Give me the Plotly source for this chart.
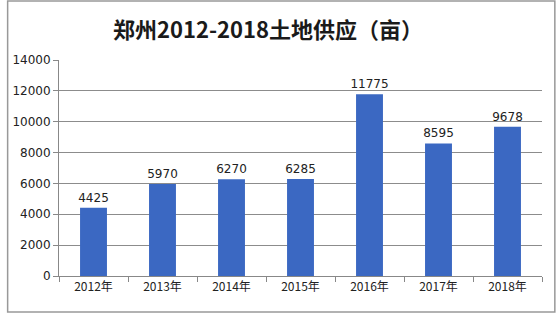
import plotly.graph_objects as go

years = ["2012年", "2013年", "2014年", "2015年", "2016年", "2017年", "2018年"]
supply = [4425, 5970, 6270, 6285, 11775, 8595, 9678]
y_ticks = [0, 2000, 4000, 6000, 8000, 10000, 12000, 14000]
title = "郑州2012-2018土地供应（亩）"

W, H = 556, 313
L, R, T, B = 53, 14, 60, 37
pw, ph = W - L - R, H - T - B

fig = go.Figure(go.Bar(
    x=years, y=supply, width=0.39,
    marker=dict(color="#3b68c2", line=dict(width=0)),
    text=[str(v) for v in supply], textposition="outside",
    textfont=dict(family="DejaVu Sans", size=12, color="#222"),
    constraintext="none",
    cliponaxis=False,
))

fig.update_layout(
    width=W, height=H,
    margin=dict(l=L, r=R, t=T, b=B),
    paper_bgcolor="white", plot_bgcolor="white",
    showlegend=False,
    title=dict(text="<b>" + title + "</b>", x=268 / W, xanchor="center",
               y=1 - 30 / H, yanchor="middle",
               font=dict(family="Noto Sans CJK SC", size=22, color="#1a1a1a")),
    xaxis=dict(type="category", tickson="boundaries", ticks="outside",
               ticklen=5, tickcolor="#888", showline=True, linecolor="#888",
               linewidth=1, showgrid=False,
               tickfont=dict(family="Noto Sans CJK SC", size=12, color="#222")),
    yaxis=dict(range=[0, 14000], tickvals=y_ticks,
               ticktext=[str(v) for v in y_ticks], ticks="outside",
               ticklen=5, tickcolor="#888", showline=True, linecolor="#888",
               linewidth=1, showgrid=True, gridcolor="#8c8c8c", gridwidth=1,
               zeroline=False,
               tickfont=dict(family="DejaVu Sans", size=12, color="#222")),
)

fig.add_shape(type="rect", xref="paper", yref="paper",
              x0=(-L + 1) / pw, x1=(pw + R - 1) / pw,
              y0=(-B + 1) / ph, y1=(ph + T - 1) / ph,
              line=dict(color="#999", width=1.5), layer="below")

fig.write_html("out.html")
